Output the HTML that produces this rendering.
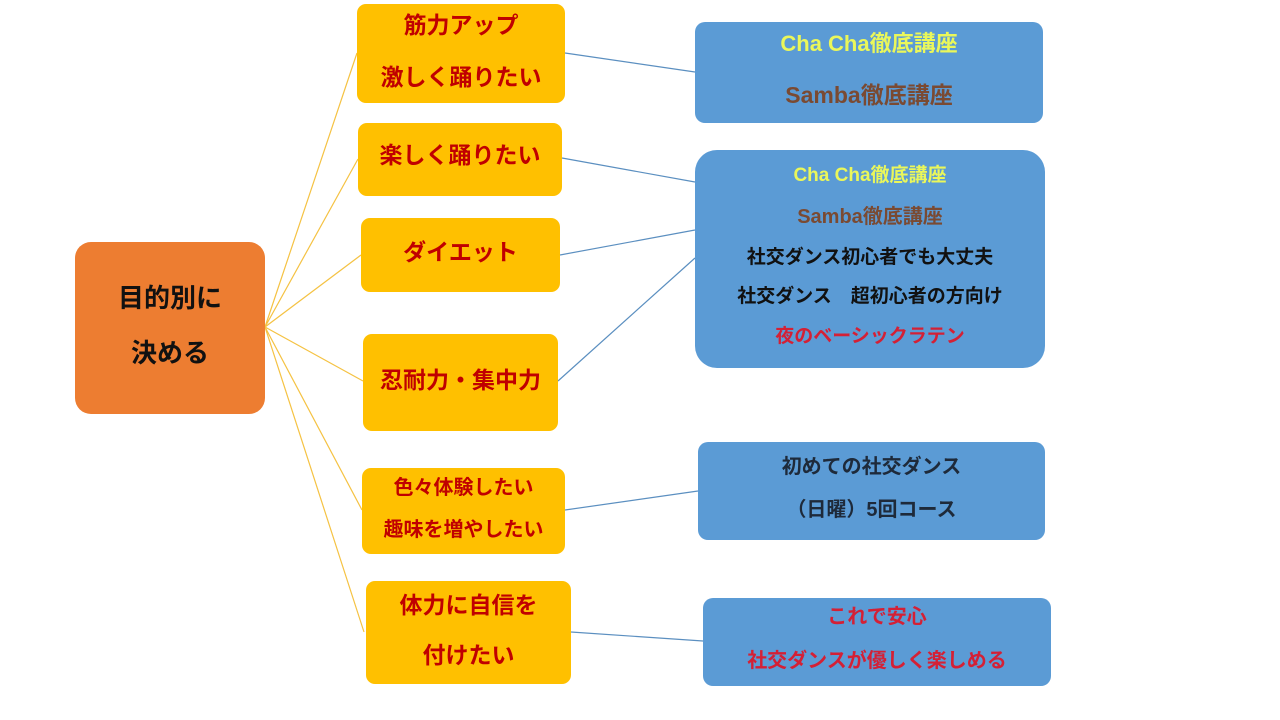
<!DOCTYPE html>
<html><head><meta charset="utf-8">
<style>
html,body{margin:0;padding:0;background:#fff;}
body{width:1280px;height:720px;position:relative;overflow:hidden;font-family:"Liberation Sans","Noto Sans CJK JP",sans-serif;font-weight:bold;}
.b{position:absolute;box-sizing:border-box;}
.t{position:absolute;left:0;right:0;text-align:center;white-space:nowrap;line-height:30px;height:30px;}
.y{background:#FFC000;border-radius:9px;color:#C00000;}
.o{background:#ED7D31;border-radius:16px;color:#111;}
.bl{background:#5B9BD5;border-radius:10px;}
svg{position:absolute;left:0;top:0;}
</style></head><body>
<svg width="1280" height="720">
<g stroke="#F5C242" stroke-width="1.2" fill="none">
<line x1="265" y1="327" x2="357" y2="53"/>
<line x1="265" y1="327" x2="358" y2="159"/>
<line x1="265" y1="327" x2="361" y2="255"/>
<line x1="265" y1="327" x2="363" y2="381"/>
<line x1="265" y1="327" x2="362" y2="510"/>
<line x1="265" y1="327" x2="364" y2="632"/>
</g>
<g stroke="#5B8FC0" stroke-width="1.2" fill="none">
<line x1="565" y1="53" x2="695" y2="72"/>
<line x1="562" y1="158" x2="695" y2="182"/>
<line x1="560" y1="255" x2="695" y2="230"/>
<line x1="558" y1="381" x2="695" y2="258"/>
<line x1="565" y1="510" x2="698" y2="491"/>
<line x1="571" y1="632" x2="703" y2="641"/>
</g>
</svg>

<div class="b o" style="left:75px;top:242px;width:190px;height:172px;font-size:26px;">
<div class="t" style="top:41px;">目的別に</div>
<div class="t" style="top:96px;">決める</div>
</div>

<div class="b y" style="left:357px;top:4px;width:208px;height:99px;font-size:23px;">
<div class="t" style="top:6px;">筋力アップ</div>
<div class="t" style="top:58px;">激しく踊りたい</div>
</div>
<div class="b y" style="left:358px;top:123px;width:204px;height:73px;font-size:23px;">
<div class="t" style="top:17px;">楽しく踊りたい</div>
</div>
<div class="b y" style="left:361px;top:218px;width:199px;height:74px;font-size:23px;">
<div class="t" style="top:19px;">ダイエット</div>
</div>
<div class="b y" style="left:363px;top:334px;width:195px;height:97px;font-size:23px;">
<div class="t" style="top:31px;">忍耐力・集中力</div>
</div>
<div class="b y" style="left:362px;top:468px;width:203px;height:86px;font-size:20px;">
<div class="t" style="top:5px;">色々体験したい</div>
<div class="t" style="top:47px;">趣味を増やしたい</div>
</div>
<div class="b y" style="left:366px;top:581px;width:205px;height:103px;font-size:23px;">
<div class="t" style="top:9px;">体力に自信を</div>
<div class="t" style="top:59px;">付けたい</div>
</div>

<div class="b bl" style="left:695px;top:22px;width:348px;height:101px;font-size:22px;">
<div class="t" style="top:7px;color:#EAF75A;">Cha Cha徹底講座</div>
<div class="t" style="top:58px;color:#7A4A32;font-size:23px;">Samba徹底講座</div>
</div>
<div class="b bl" style="left:695px;top:150px;width:350px;height:218px;border-radius:22px;font-size:19px;color:#111;">
<div class="t" style="top:11px;color:#EAF75A;">Cha Cha徹底講座</div>
<div class="t" style="top:52px;color:#7A4A32;font-size:20px;">Samba徹底講座</div>
<div class="t" style="top:93px;">社交ダンス初心者でも大丈夫</div>
<div class="t" style="top:132px;">社交ダンス　超初心者の方向け</div>
<div class="t" style="top:172px;color:#D42035;">夜のベーシックラテン</div>
</div>
<div class="b bl" style="left:698px;top:442px;width:347px;height:98px;font-size:20px;color:#1E2A3A;">
<div class="t" style="top:10px;">初めての社交ダンス</div>
<div class="t" style="top:53px;">（日曜）5回コース</div>
</div>
<div class="b bl" style="left:703px;top:598px;width:348px;height:88px;font-size:20px;color:#D42035;">
<div class="t" style="top:4px;">これで安心</div>
<div class="t" style="top:48px;">社交ダンスが優しく楽しめる</div>
</div>
</body></html>
